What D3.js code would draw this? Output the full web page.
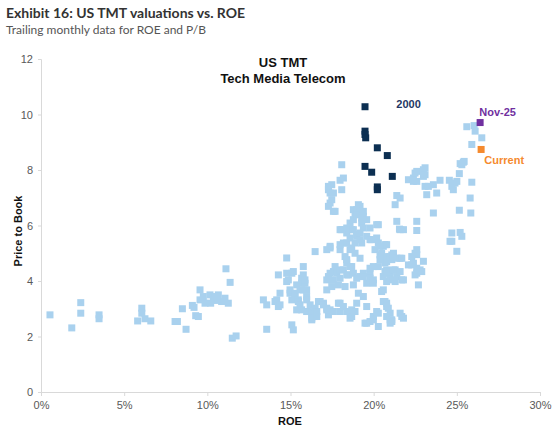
<!DOCTYPE html>
<html lang="en">
<head>
<meta charset="UTF-8">
<title>US TMT valuations vs. ROE</title>
<script src="https://cdn.jsdelivr.net/npm/d3@7"></script>
<style>
  body { margin: 0; background: #fff; }
  svg { display: block; }
</style>
</head>
<body>
<svg width="560" height="430"></svg>
<script>
// monthly history: [ROE %, P/B]
var historyPoints = [
  [0.54,2.78],[1.85,2.31],[2.39,3.22],[2.39,2.84],[3.49,2.78],[3.49,2.64],[5.81,2.56],[6.06,3.02],
  [6.06,2.84],[6.25,2.64],[6.6,2.56],[8.06,2.54],[8.2,2.54],[8.72,2.26],[8.5,3.0],[9.1,3.12],
  [9.2,3.05],[9.3,2.75],[9.46,2.72],[9.56,3.68],[9.56,3.32],[9.86,3.2],[9.76,3.44],[10.16,3.5],
  [10.36,3.32],[10.46,3.44],[10.66,3.5],[10.86,3.26],[11.06,3.38],[11.26,3.2],[10.6,3.3],[10.2,3.2],
  [11.12,4.44],[11.37,3.95],[11.5,1.94],[11.73,2.02],
  [13.37,3.32],[13.57,3.14],[13.57,2.26],[14.17,3.32],[14.27,3.08],[14.07,3.26],[14.37,3.56],[14.37,3.14],
  [14.27,4.22],[14.77,4.28],[14.77,4.83],[14.87,4.04],[14.77,3.98],[14.97,3.56],[14.97,3.68],[15.08,4.28],
  [15.17,4.34],[15.08,3.32],[15.08,2.42],[15.17,2.24],[15.27,3.56],[15.27,3.5],[15.37,3.86],[15.37,2.96],
  [15.47,3.32],[15.47,3.26],[15.57,3.14],[15.57,3.68],[15.67,4.1],[15.67,3.92],[15.67,2.96],[15.77,4.52],
  [15.77,3.68],[15.77,4.22],[15.87,3.92],[15.87,4.04],[15.97,3.44],[15.97,3.68],[15.97,3.32],[15.97,2.9],
  [16.08,2.9],[16.18,3.14],[16.28,2.84],[16.28,2.6],[16.28,2.66],[16.48,3.02],[16.48,5.06],[16.58,2.72],
  [16.58,2.9],[16.68,3.26],[16.78,3.26],
  [16.98,3.2],[16.98,3.14],[17.18,2.96],[17.18,3.02],[17.18,3.68],[17.18,4.04],[17.18,5.13],[17.28,2.78],
  [17.28,4.16],[17.38,2.96],[17.38,4.28],[17.38,5.19],[17.38,5.25],[17.38,6.81],[17.48,3.8],[17.58,2.9],
  [17.58,4.04],[17.58,4.34],[17.58,6.51],[17.68,4.52],[17.78,4.28],[17.88,3.2],[17.88,3.86],[17.98,2.9],
  [17.98,3.2],[17.98,4.1],[17.98,4.4],[17.98,5.13],[17.98,5.31],[17.98,5.85],[18.18,3.08],[18.18,4.4],
  [18.18,5.37],[18.28,3.8],[18.28,4.88],[18.38,2.9],[18.38,4.22],[18.38,4.65],[18.38,4.77],[18.38,5.37],
  [18.38,5.73],[18.48,4.22],[18.58,2.66],[18.58,4.52],[18.58,5.13],[18.68,2.72],[18.68,2.96],[18.68,4.52],
  [18.68,5.19],[18.68,5.85],[18.78,3.86],[18.78,4.28],[18.88,2.9],[18.88,5.0],[18.88,5.37],
  [17.28,7.41],[17.28,7.29],[17.38,7.17],[17.48,6.93],[17.28,6.69],[17.68,6.51],[17.48,7.47],[17.58,7.17],
  [17.98,7.63],[18.08,8.19],[18.18,7.71],[18.08,7.29],[18.08,5.85],[18.38,5.91],[18.58,6.09],[18.58,5.55],
  [18.78,6.21],[18.78,5.85],[18.78,6.57],[18.88,6.39],[18.98,6.57],[18.98,6.39],[18.98,5.67],[18.98,5.61],
  [19.08,6.75],[19.18,6.69],[19.18,5.49],[19.18,5.73],[19.28,6.27],[19.28,6.09],[19.38,6.51],[19.38,6.33],
  [19.38,5.91],[19.58,6.21],[19.58,5.61],[19.78,5.91],[19.78,5.49],[19.88,5.49],
  [18.98,3.2],[18.98,4.1],[19.08,3.56],[19.18,4.16],[19.18,4.82],[19.28,5.37],[19.38,3.44],[19.38,4.28],
  [19.38,4.16],[19.48,2.48],[19.58,3.08],[19.58,3.92],[19.58,2.48],[19.78,4.28],[19.78,4.46],[19.78,4.1],
  [19.78,2.54],[19.98,2.72],[19.98,2.6],[19.98,4.04],[19.98,4.52],[19.98,3.92],[20.08,5.13],[20.18,5.55],
  [20.18,6.03],[20.18,2.9],[20.28,6.03],[20.28,5.37],[20.28,4.52],[20.28,2.84],[20.28,2.36],[20.38,5.25],
  [20.38,4.77],[20.38,4.94],[20.48,5.0],[20.48,3.62],[20.58,5.25],[20.58,4.16],[20.58,3.68],[20.58,3.26],
  [20.58,4.77],[20.68,5.31],[20.68,4.65],[20.68,4.34],[20.68,3.26],[20.78,5.31],[20.78,4.88],[20.78,4.4],
  [20.78,4.7],[20.78,4.28],[20.78,3.98],[20.78,3.08],[20.78,3.2],[20.78,2.72],[20.88,3.02],[20.99,2.84],
  [20.99,2.48],[20.99,2.6],[20.99,4.1],[20.99,4.88],[21.0,4.34],[21.09,4.94],[21.09,4.77],[21.09,2.6],
  [21.09,2.54],[21.19,4.88],[21.19,5.0],[21.19,4.4],[21.19,4.04],[21.29,4.4],[21.29,3.98],[21.29,6.75],
  [21.39,4.82],[21.39,4.16],[21.39,6.15],[21.39,7.08],[21.55,5.87],[21.59,6.99],[21.59,5.85],[21.59,4.82],
  [21.59,4.34],[21.59,2.84],[21.69,4.82],[21.69,4.04],[21.69,2.72],[21.79,5.85],[21.79,4.04],[21.79,2.66],
  [22.09,4.58],[22.09,7.65],[22.29,4.88],[22.29,4.58],[22.39,4.64],[22.39,7.59],[22.39,7.71],[22.49,5.0],
  [22.49,4.22],[22.49,7.89],[22.59,5.13],[22.59,4.95],[22.59,4.46],[22.59,4.28],[22.59,5.82],[22.59,6.15],
  [22.59,7.59],[22.59,7.95],[22.69,3.86],[22.79,4.4],[22.89,4.34],[22.99,4.71],[22.99,7.77],[22.99,8.01],
  [23.09,7.41],[23.09,7.83],[23.09,8.08],[23.19,7.11],[23.29,7.41],[23.59,7.47],[23.59,6.45],[23.79,7.17],
  [23.99,7.63],[24.55,7.63],[24.59,5.43],[24.7,5.73],[24.7,5.43],[24.7,7.41],[24.79,7.29],[24.89,7.53],
  [25.0,7.59],[25.0,5.07],[25.15,7.87],[25.15,6.55],[25.2,8.23],[25.2,5.75],[25.3,5.61],[25.3,8.19],
  [25.39,8.28],[25.44,8.31],[25.8,6.99],[25.84,6.45],[25.9,7.56],[25.9,8.92],[25.6,9.56],[26.04,9.6],
  [26.1,9.4],[26.5,9.16]
];
// 2000 bubble months
var points2000 = [
  [19.48,10.28],[19.48,9.4],[19.48,9.28],[19.52,9.16],[20.22,8.8],[20.82,8.52],
  [19.48,8.13],[19.88,7.92],[21.12,7.77],[20.22,7.39],[20.22,7.29]
];
var nov25 = [26.4, 9.71];
var current = [26.46, 8.74];

var xTicks = [0, 5, 10, 15, 20, 25, 30];
var yTicks = [0, 2, 4, 6, 8, 10, 12];

var svg = d3.select('svg');
var font = "'Liberation Sans', Arial, sans-serif";

var x = d3.scaleLinear().domain([0, 30]).range([41, 540]);
var y = d3.scaleLinear().domain([0, 12]).range([392, 59]);

// headings
svg.append('text')
  .attr('x', 6).attr('y', 18)
  .attr('font-family', 'Lato, sans-serif').attr('font-weight', 'bold')
  .attr('font-size', '14px').attr('fill', '#333')
  .text('Exhibit 16: US TMT valuations vs. ROE');
svg.append('text')
  .attr('x', 6).attr('y', 34)
  .attr('font-family', 'Lato, sans-serif')
  .attr('font-size', '12px').attr('fill', '#555')
  .text('Trailing monthly data for ROE and P/B');

var title = svg.append('text')
  .attr('text-anchor', 'middle')
  .attr('font-family', font).attr('font-weight', 'bold')
  .attr('font-size', '13px').attr('fill', '#111');
title.append('tspan').attr('x', 283).attr('y', 67).text('US TMT');
title.append('tspan').attr('x', 283).attr('y', 83).text('Tech Media Telecom');

// axes
var xAxis = svg.append('g')
  .attr('transform', 'translate(0,' + y(0) + ')')
  .call(d3.axisBottom(x).tickValues(xTicks).tickFormat(function(d){ return d + '%'; })
        .tickSize(4).tickPadding(5));
var yAxis = svg.append('g')
  .attr('transform', 'translate(' + x(0) + ',0)')
  .call(d3.axisLeft(y).tickValues(yTicks).tickSize(3).tickPadding(5));

[xAxis, yAxis].forEach(function(a){
  a.select('.domain').attr('stroke', '#d9d9d9');
  a.selectAll('.tick line').attr('stroke', '#d9d9d9');
  a.selectAll('.tick text').attr('fill', '#595959')
    .attr('font-family', font).attr('font-size', '11px');
});

svg.append('text')
  .attr('x', 290).attr('y', 425)
  .attr('text-anchor', 'middle')
  .attr('font-family', font).attr('font-weight', 'bold')
  .attr('font-size', '11px').attr('fill', '#111')
  .text('ROE');
svg.append('text')
  .attr('transform', 'translate(22,' + 231 + ') rotate(-90)')
  .attr('text-anchor', 'middle')
  .attr('font-family', font).attr('font-weight', 'bold')
  .attr('font-size', '11px').attr('fill', '#111')
  .text('Price to Book');

// squares
var size = 7;
function squares(data, color) {
  svg.append('g')
    .selectAll('rect')
    .data(data)
    .enter().append('rect')
    .attr('x', function(d){ return x(d[0]) - size / 2; })
    .attr('y', function(d){ return y(d[1]) - size / 2; })
    .attr('width', size)
    .attr('height', size)
    .attr('fill', color);
}
squares(historyPoints, '#a9d1ee');
squares(points2000, '#0c2f52');
squares([nov25], '#7030a0');
squares([current], '#f58a2e');

// annotations
function note(px, py, str, color) {
  svg.append('text')
    .attr('x', px).attr('y', py)
    .attr('text-anchor', 'middle')
    .attr('font-family', font).attr('font-weight', 'bold')
    .attr('font-size', '11px').attr('fill', color)
    .text(str);
}
note(x(22.1), y(10.23), '2000', '#1f3864');
note(x(27.45), y(9.95), 'Nov-25', '#7030a0');
note(x(27.85), y(8.2), 'Current', '#f58a2e');
</script>
</body>
</html>
